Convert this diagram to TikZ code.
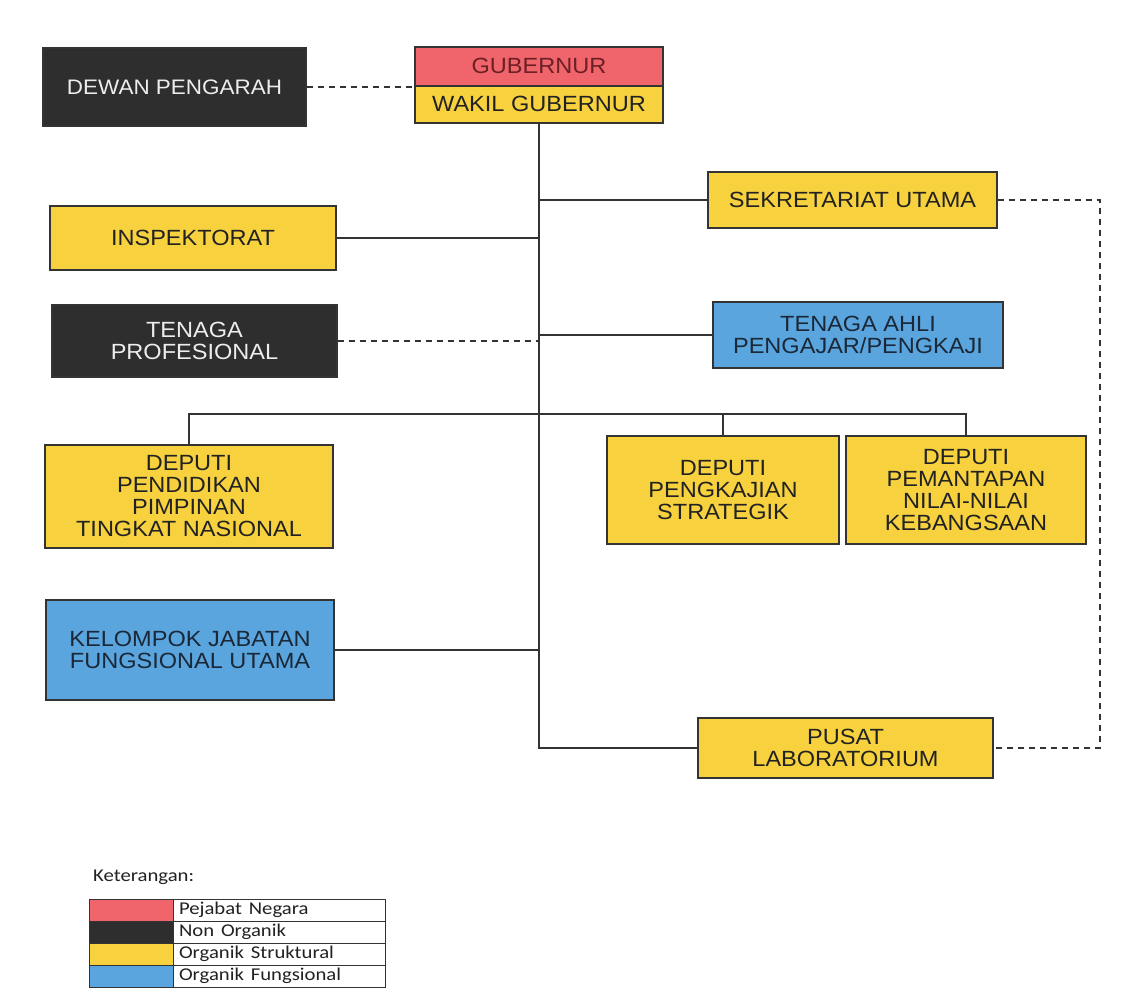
\documentclass[tikz,border=0pt]{standalone}
\usepackage{fontspec}
\setmainfont{Liberation Sans}
\newfontfamily\legfont{Carlito}
\usepackage{graphicx}
\definecolor{cred}{HTML}{F0646B}
\definecolor{cblk}{HTML}{2E2E2E}
\definecolor{cyel}{HTML}{F7D23E}
\definecolor{cblu}{HTML}{5AA5DE}
\definecolor{lc}{HTML}{333333}
\definecolor{tdark}{HTML}{222222}
\definecolor{tlight}{HTML}{EDEDED}
\definecolor{tgub}{HTML}{6B2026}
\definecolor{tblu}{HTML}{1A2838}
\newcommand\sx[1]{\raisebox{-3pt}[\height][\depth]{\scalebox{1.07}[1]{\begin{tabular}{@{}c@{}}#1\end{tabular}}}}
\newcommand\lx[1]{\scalebox{1.15}[1]{#1}}
\begin{document}
\begin{tikzpicture}[x=1pt,y=-1pt,
  box/.style={draw=lc, line width=1.3pt, rectangle, inner sep=0pt, text=tdark,
    font=\fontsize{22}{22}\selectfont},
  ybox/.style={box, fill=cyel},
  kbox/.style={box, fill=cblk, text=tlight},
  bbox/.style={box, fill=cblu, text=tblu},
  conn/.style={draw=lc, line width=1.3pt},
  dconn/.style={draw=lc, line width=1.3pt, dash pattern=on 6pt off 5pt},
  legc/.style={draw=lc, line width=0.8pt, rectangle, inner sep=0pt, minimum width=84pt, minimum height=22pt},
  legt/.style={draw=lc, line width=0.8pt, rectangle, inner sep=0pt, minimum width=212pt, minimum height=22pt,
    text width=200pt, align=left, font=\legfont\fontsize{18}{19}\selectfont, text=tdark},
]
\useasboundingbox[fill=white] (0,0) rectangle (1123,997);

% nodes
\node[kbox, minimum width=263pt, minimum height=78pt, font=\fontsize{21}{22}\selectfont] (dewan) at (174.5,87) {\sx{DEWAN PENGARAH}};
\node[box, fill=cred, text=tgub, minimum width=248pt, minimum height=39pt] (gub) at (539,66.5) {\sx{GUBERNUR}};
\node[ybox, minimum width=248pt, minimum height=37pt] (wakil) at (539,104.5) {\sx{WAKIL GUBERNUR}};
\node[ybox, minimum width=289pt, minimum height=56pt] (sekr) at (852.5,200) {\sx{SEKRETARIAT UTAMA}};
\node[ybox, minimum width=286pt, minimum height=64pt] (insp) at (193,238) {\sx{INSPEKTORAT}};
\node[kbox, minimum width=285pt, minimum height=72pt] (tprof) at (194.5,341) {\sx{TENAGA\\PROFESIONAL}};
\node[bbox, minimum width=290pt, minimum height=66pt] (tahli) at (858,335) {\sx{TENAGA AHLI\\PENGAJAR/PENGKAJI}};
\node[ybox, minimum width=288pt, minimum height=103pt] (dpend) at (189,496.5) {\sx{DEPUTI\\PENDIDIKAN\\PIMPINAN\\TINGKAT NASIONAL}};
\node[ybox, minimum width=232pt, minimum height=108pt] (dpeng) at (723,490) {\sx{DEPUTI\\PENGKAJIAN\\STRATEGIK}};
\node[ybox, minimum width=240pt, minimum height=108pt] (dpem) at (966,490) {\sx{DEPUTI\\PEMANTAPAN\\NILAI-NILAI\\KEBANGSAAN}};
\node[bbox, minimum width=288pt, minimum height=100pt] (kel) at (190,650) {\sx{KELOMPOK JABATAN\\FUNGSIONAL UTAMA}};
\node[ybox, minimum width=295pt, minimum height=60pt] (pusat) at (845.5,748) {\sx{PUSAT\\LABORATORIUM}};

\coordinate (bus) at (540,414);
\coordinate (rc) at (1100,201);

% connectors
\draw[dconn] (dewan.east) -- (dewan.east -| gub.west);
\draw[conn] (wakil.south) -- (wakil.south |- pusat.west) -- (pusat.west);
\draw[conn] (sekr.west) -- (sekr.west -| wakil.south);
\draw[conn] (insp.east) -- (insp.east -| wakil.south);
\draw[dconn] (tprof.east) -- (tprof.east -| wakil.south);
\draw[conn] (tahli.west) -- (tahli.west -| wakil.south);
\draw[conn] (kel.east) -- (kel.east -| wakil.south);
\draw[conn] (dpend.north) -- (dpend.north |- bus) -- (dpem.north |- bus) -- (dpem.north);
\draw[conn] (dpeng.north) -- (dpeng.north |- bus);
\draw[dconn] (sekr.east) -- (sekr.east -| rc) -- (rc |- pusat.east) -- (pusat.east);

% legend
\node[anchor=west, font=\legfont\fontsize{18}{19}\selectfont, text=tdark, inner sep=0pt] (ket) at (93,877) {\lx{Keterangan:}};
\node[legc, fill=cred] (l1c) at (131,910) {};
\node[legt] (l1t) at (279,910) {\lx{Pejabat Negara}};
\node[legc, fill=cblk] (l2c) at (131,932) {};
\node[legt] (l2t) at (279,932) {\lx{Non Organik}};
\node[legc, fill=cyel] (l3c) at (131,954) {};
\node[legt] (l3t) at (279,954) {\lx{Organik Struktural}};
\node[legc, fill=cblu] (l4c) at (131,976) {};
\node[legt] (l4t) at (279,976) {\lx{Organik Fungsional}};
\end{tikzpicture}
\end{document}
